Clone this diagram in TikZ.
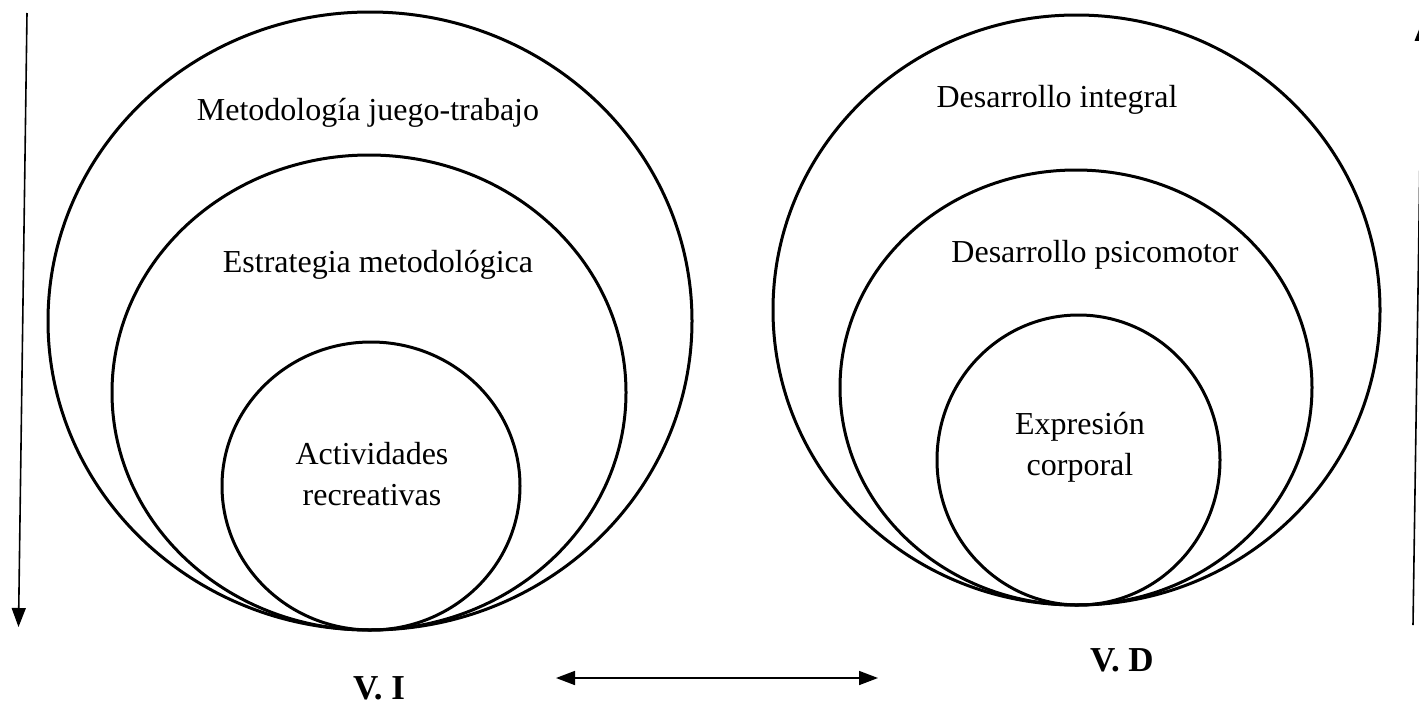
\documentclass[tikz,border=0pt]{standalone}
\usepackage{fontspec}
\setmainfont{Liberation Serif}
\usetikzlibrary{shapes.geometric,arrows.meta}
\begin{document}
\begin{tikzpicture}[x=1pt,y=-1pt,
  ring/.style={draw, ellipse, line width=3pt, inner sep=0pt},
  lbl/.style={font=\fontsize{32}{41}\selectfont, align=center, inner sep=0pt},
  vlbl/.style={font=\fontsize{35}{40}\selectfont\bfseries, inner sep=0pt},
  arr/.style={line width=1.6pt, -{Triangle[length=19pt,width=14pt]}},
  darr/.style={line width=1.6pt, {Triangle[length=19pt,width=14pt]}-{Triangle[length=19pt,width=14pt]}}]
\useasboundingbox (0,0) rectangle (1419,707);
\clip (0,0) rectangle (1419,707);
\fill[white] (0,0) rectangle (1419,707);
% left circles
\node[ring, minimum width=644pt, minimum height=618pt] (L1) at (370,321) {};
\node[ring, minimum width=514pt, minimum height=475pt] (L2) at (369,392.5) {};
\node[ring, minimum width=298pt, minimum height=288pt] (L3) at (371,486) {};
% right circles
\node[ring, minimum width=607pt, minimum height=590pt] (R1) at (1076.5,310) {};
\node[ring, minimum width=472pt, minimum height=435pt] (R2) at (1076,387.5) {};
\node[ring, minimum width=283pt, minimum height=290pt] (R3) at (1078.5,460) {};
% labels
\node[lbl] (t1) at (368,113) {Metodología juego-trabajo};
\node[lbl] (t2) at (378,265) {Estrategia metodológica};
\node[lbl] (t3) at (372,474) {Actividades\\recreativas};
\node[lbl] (t4) at (1057,100) {Desarrollo integral};
\node[lbl] (t5) at (1095,255) {Desarrollo psicomotor};
\node[lbl] (t6) at (1080,447) {Expresión\\corporal};
\node[vlbl] (vi) at (379,688) {V. I};
\node[vlbl] (vd) at (1122,660) {V. D};
% arrows
\coordinate (a1) at (27,13);
\coordinate (a2) at (18.5,627);
\draw[arr] (a1) -- (a2);
\coordinate (b1) at (1413,625);
\coordinate (b2) at (1422,22);
\draw[arr] (b1) -- (b2);
\coordinate (c1) at (556,678);
\coordinate (c2) at (878,678);
\draw[darr] (c1) -- (c2);
\end{tikzpicture}
\end{document}
